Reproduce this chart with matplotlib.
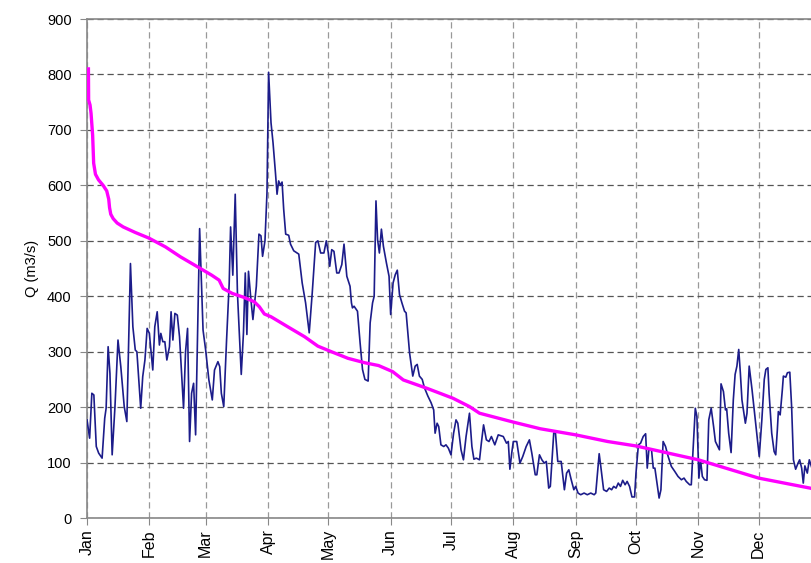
import numpy as np
import matplotlib.pyplot as plt

plt.rcParams["font.family"] = ["Liberation Sans", "DejaVu Sans"]

months = ["Jan", "Feb", "Mar", "Apr", "May", "Jun",
          "Jul", "Aug", "Sep", "Oct", "Nov", "Dec"]
month_start = [0, 31, 59, 90, 120, 151, 181, 212, 243, 273, 304, 334]

# daily discharge (day of year, m3/s)
hydro_day = [
    0, 1.3, 2.4, 3.4, 4.6, 5.8, 7.5, 8.8, 9.5, 10.5, 11.4, 12.5, 13.9, 15.4,
    16.8, 18.5, 19.8, 21.6, 22.8, 24, 24.8, 26.7, 27.7, 28.8, 29.9, 31, 32.7,
    33.7, 34.9, 36, 36.7, 37.7, 38.7, 39.7, 41, 41.8, 42.7, 43.7, 44.9, 46,
    48, 49, 50, 51, 52, 53, 54, 56, 57.7, 59, 60.6, 62.3, 63.4, 65.1, 66,
    66.8, 68, 69.4, 70.7, 71.4, 72.5, 73.7, 74.8, 76.7, 77.8, 78.7, 79.5,
    80.3, 81.5, 82.5, 84.2, 85.5, 86.5, 87.3, 88.5, 89.5, 90.3, 91.5, 92.5,
    93.7, 94.5, 95.3, 96.2, 97, 97.8, 98.8, 100.3, 101.2, 102.8, 105.3, 107,
    108.7, 110.5, 112, 113.7, 114.8, 116.2, 117.8, 119, 120, 120.7, 121.7,
    122.8, 124.2, 125.3, 126.7, 127.8, 129.2, 130.8, 131.5, 132, 132.8,
    134.5, 135.8, 137, 138.2, 139.8, 140.8, 142, 142.8, 143.7, 144.5, 145.4,
    146.4, 147.4, 148.9, 150.2, 151, 152.2, 153.3, 154.3, 155.4, 156.6,
    157.9, 158.7, 160.4, 162, 163.2, 164.2, 165.3, 166.7, 167.8, 169.5,
    171.1, 172.4, 173.1, 174.1, 174.9, 176, 177.4, 178.5, 179.7, 181, 182.3,
    183.5, 184.4, 186, 187.2, 188.5, 190.2, 191.4, 192.4, 193.6, 195.2,
    196.1, 197.2, 198.6, 199.9, 201.1, 202.8, 204.5, 207, 208.6, 209.5,
    210.3, 211.2, 212, 213.7, 215.3, 216.7, 218.4, 220, 221.2, 222.9, 223.7,
    225, 226.2, 227.4, 228.4, 229.6, 230.4, 232.1, 232.9, 234.1, 235.8,
    237.4, 238.5, 239.6, 240.8, 242.1, 243, 244.2, 245.5, 247.2, 248.8,
    250.5, 252.2, 253, 254.7, 255.5, 256.9, 258.4, 259.7, 260.9, 261.9,
    263.1, 264.2, 265.3, 266.4, 267.6, 268.6, 269.8, 271, 272.3, 273, 274.2,
    275.3, 276.6, 277.8, 278.6, 279.4, 280.7, 281.6, 282.4, 283.2, 284.5,
    285.4, 286.5, 287.7, 289, 290.6, 292.3, 293.9, 295.6, 296.9, 298, 299.7,
    300.5, 301.3, 302.5, 303.3, 304.3, 305.1, 306, 307.1, 308.3, 309.2,
    310.4, 311.6, 312.5, 313.7, 314.5, 315.3, 316.5, 317.5, 318.1, 319.1,
    320.3, 321.4, 322.3, 323.2, 324.1, 324.9, 325.7, 327.4, 328.2, 329.3,
    330.7, 331.8, 333, 334.3, 335.6, 336.8, 337.6, 338.6, 339.2, 340.5,
    341.7, 342.5, 343.3, 343.8, 344.7, 345.8, 346.3, 347.5, 348.3, 349.5,
    350.4, 351.3, 352.4, 353.6, 354.4, 355.4, 356.2, 357, 358.2, 359.2,
    360.5, 361.5, 362.5,
]
hydro_q = [
    177, 144, 225, 222, 129, 117, 108, 180, 198, 309, 261, 114, 201, 321,
    273, 201, 174, 459, 345, 303, 300, 198, 255, 285, 342, 333, 267,
    345, 372, 312, 333, 318, 318, 285, 309, 372, 321, 369, 366, 327,
    198, 300, 342, 138, 225, 243, 150, 522, 339, 303, 249, 213, 267, 282, 273,
    225, 201, 321, 423, 525, 438, 584, 406, 259, 334, 442, 331,
    445, 394, 358, 418, 512, 509, 472, 500, 587, 804, 713, 677,
    623, 584, 608, 600, 606, 557, 512, 510, 494, 482, 476, 424,
    388, 334, 406, 497, 500, 478, 478, 500, 478, 454, 484,
    481, 442, 442, 457, 494, 436, 418, 388, 379, 382,
    373, 316, 268, 250, 247, 352, 388, 400, 572, 502, 478,
    521, 490, 460, 436, 367, 424, 439, 447, 403, 388,
    373, 370, 298, 256, 274, 277, 256, 250, 235, 220,
    208, 195, 153, 171, 165, 132, 129, 132, 126, 114, 153,
    177, 171, 123, 105, 147, 189, 129, 106, 108, 105,
    135, 168, 141, 138, 147, 132, 150, 147, 135, 138,
    88, 117, 138, 138, 99, 111, 129, 141, 117, 78, 78,
    114, 105, 99, 102, 54, 57, 153, 156, 102, 102,
    51, 81, 87, 69, 51, 57, 45, 42, 45, 42,
    45, 42, 45, 116, 93, 51, 48, 54, 51, 57,
    54, 63, 57, 68, 60, 66, 57, 38, 38, 81, 132,
    135, 147, 152, 90, 123, 124, 90, 90, 69, 36,
    51, 138, 129, 111, 93, 84, 75, 69, 72, 66, 60,
    60, 117, 198, 183, 72, 105, 75, 69, 68, 177,
    198, 165, 138, 129, 123, 242, 228, 195, 197, 153,
    118, 213, 259, 274, 304, 262, 213, 171, 189, 274,
    232, 195, 153, 111, 177, 250, 268, 271, 225, 153,
    120, 114, 159, 192, 186, 232, 256, 254, 262, 263,
    201, 105, 88, 99, 105, 90, 63, 94, 81, 105,
    90, 75, 90,
]

# flow duration curve plotted on the same day axis
fdc_day = [0.7, 0.8, 1.5, 2, 2.8, 3.3, 4.2, 5.7, 8, 9.8, 10.8, 11.2, 11.8,
           13, 15, 18, 24, 30.7, 39, 46.5, 55, 62, 65.7, 67.7, 72.3, 78,
           83.2, 85.7, 88.2, 91.5, 99.8, 108.2, 114.8, 121.5, 129.8, 138.2,
           145, 152, 157.3, 169, 182, 190.2, 195.2, 212, 225.4, 243, 258.9,
           273, 304, 334, 359.5, 364]
fdc_q = [810, 754, 745, 730, 690, 640, 620, 610, 600, 590, 575, 560, 548,
         540, 532, 525, 515, 505, 489, 471, 453, 438, 429, 414, 405, 398,
         390, 381, 368, 363, 345, 327, 310, 300, 288, 280,
         275, 264, 249, 234, 216, 201, 189, 173, 161, 150, 138,
         130, 105, 72, 54, 50]

fig = plt.figure(figsize=(8.11, 5.63), dpi=100)
ax = fig.add_axes([0.1073, 0.0799, 0.905, 0.8863])

ax.plot(hydro_day, hydro_q, color="#1c1c8a", linewidth=1.2, zorder=3)
ax.plot(fdc_day, fdc_q, color="#ff00ff", linewidth=2.4, zorder=4)

ax.set_xlim(0, 365)
ax.set_ylim(0, 900)
ax.set_yticks(np.arange(0, 901, 100))
ax.set_xticks(month_start)
ax.set_xticklabels(months, rotation=90)

ax.grid(True, axis="y", color="#555555", linestyle=(0, (5, 3)), linewidth=0.9)
ax.grid(True, axis="x", color="#999999", linestyle=(0, (5, 3)), linewidth=0.9)
ax.set_axisbelow(True)

for side in ["left", "bottom", "top"]:
    ax.spines[side].set_color("#888888")
    ax.spines[side].set_linewidth(1.2)
ax.spines["right"].set_visible(False)

ax.tick_params(axis="both", direction="out", length=5, color="#888888",
               labelsize=10.5, labelcolor="black")
ax.tick_params(axis="y", pad=6)
ax.tick_params(axis="x", pad=3, labelsize=11.5)

ax.set_ylabel("Q (m3/s)", fontsize=10.5, labelpad=6)

fig.savefig("out.png", dpi=100)
